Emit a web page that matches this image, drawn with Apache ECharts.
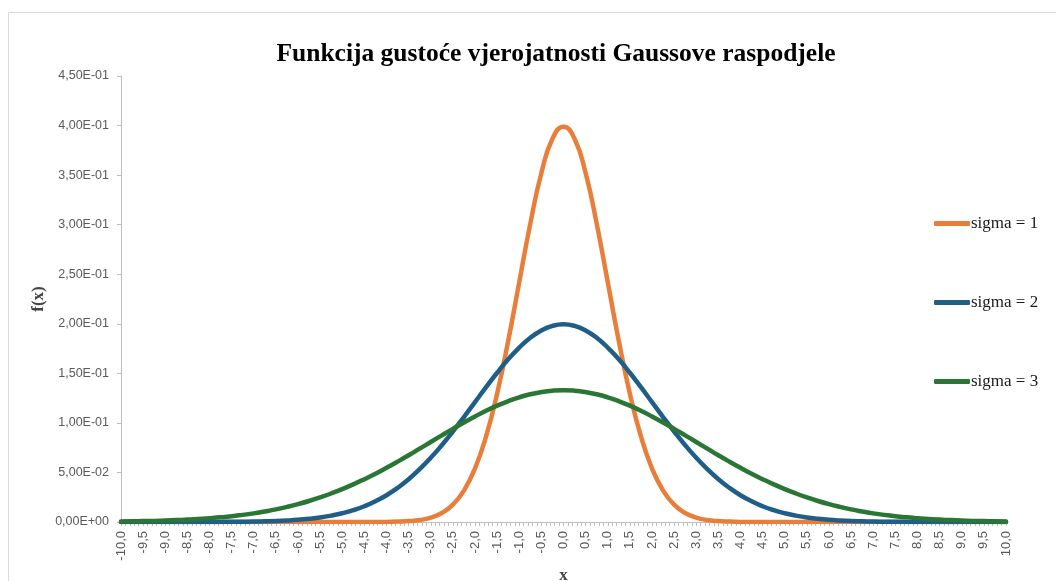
<!DOCTYPE html>
<html>
<head>
<meta charset="utf-8">
<title>Funkcija gustoće</title>
<script src="https://cdn.jsdelivr.net/npm/echarts@6/dist/echarts.min.js"></script>
<style>
  html, body { margin: 0; padding: 0; background: #fff; }
  #echar { width: 1056px; height: 581px; }
</style>
</head>
<body>
<div id="echar"></div>
<script>
// x vrijednosti (korak 0,25)
var xs = [-10,-9.75,-9.5,-9.25,-9,-8.75,-8.5,-8.25,-8,-7.75,-7.5,-7.25,-7,-6.75,-6.5,-6.25,-6,-5.75,-5.5,-5.25,
  -5,-4.75,-4.5,-4.25,-4,-3.75,-3.5,-3.25,-3,-2.75,-2.5,-2.25,-2,-1.75,-1.5,-1.25,-1,-0.75,-0.5,-0.25,
  0,0.25,0.5,0.75,1,1.25,1.5,1.75,2,2.25,2.5,2.75,3,3.25,3.5,3.75,4,4.25,4.5,4.75,
  5,5.25,5.5,5.75,6,6.25,6.5,6.75,7,7.25,7.5,7.75,8,8.25,8.5,8.75,9,9.25,9.5,9.75,10];

var sigma1 = [0,0,0,0,0,0,0,0,0,0,0,0,0,0,0,0,0,0,0,0,
  0,0,0,0,0.0001,0.0004,0.0009,0.0020,0.0044,0.0091,0.0175,0.0317,0.0540,0.0863,0.1295,0.1826,0.2420,0.3011,0.3521,0.3867,
  0.3989,0.3867,0.3521,0.3011,0.2420,0.1826,0.1295,0.0863,0.0540,0.0317,0.0175,0.0091,0.0044,0.0020,0.0009,0.0004,0.0001,0,0,0,
  0,0,0,0,0,0,0,0,0,0,0,0,0,0,0,0,0,0,0,0,0];

var sigma2 = [0,0,0,0,0,0,0,0,0.0001,0.0001,0.0002,0.0003,0.0004,0.0007,0.0010,0.0015,0.0022,0.0032,0.0045,0.0064,
  0.0088,0.0119,0.0159,0.0209,0.0270,0.0344,0.0431,0.0533,0.0648,0.0775,0.0913,0.1059,0.1210,0.1360,0.1506,0.1641,0.1760,0.1859,0.1933,0.1979,
  0.1995,0.1979,0.1933,0.1859,0.1760,0.1641,0.1506,0.1360,0.1210,0.1059,0.0913,0.0775,0.0648,0.0533,0.0431,0.0344,0.0270,0.0209,0.0159,0.0119,
  0.0088,0.0064,0.0045,0.0032,0.0022,0.0015,0.0010,0.0007,0.0004,0.0003,0.0002,0.0001,0.0001,0,0,0,0,0,0,0,0];

var sigma3 = [0.0005,0.0007,0.0009,0.0011,0.0015,0.0019,0.0024,0.0030,0.0038,0.0047,0.0058,0.0072,0.0087,0.0106,0.0127,0.0152,0.0180,0.0212,0.0248,0.0288,
  0.0332,0.0380,0.0432,0.0487,0.0547,0.0609,0.0673,0.0740,0.0807,0.0874,0.0940,0.1004,0.1065,0.1122,0.1174,0.1219,0.1258,0.1289,0.1311,0.1325,
  0.1330,0.1325,0.1311,0.1289,0.1258,0.1219,0.1174,0.1122,0.1065,0.1004,0.0940,0.0874,0.0807,0.0740,0.0673,0.0609,0.0547,0.0487,0.0432,0.0380,
  0.0332,0.0288,0.0248,0.0212,0.0180,0.0152,0.0127,0.0106,0.0087,0.0072,0.0058,0.0047,0.0038,0.0030,0.0024,0.0019,0.0015,0.0011,0.0009,0.0007,0.0005];

var names = ['sigma = 1', 'sigma = 2', 'sigma = 3'];
var colors = ['#E97E3A', '#1F5E86', '#2A7634'];

function pairs(ys) {
    return xs.map(function (x, i) { return [x, ys[i]]; });
}

// 4,50E-01 format
function expFmt(v) {
    var s = Number(v).toExponential(2).split('e');
    var e = parseInt(s[1], 10);
    var es = (e < 0 ? '-' : '+') + (Math.abs(e) < 10 ? '0' : '') + Math.abs(e);
    return s[0].replace('.', ',') + 'E' + es;
}

var myChart = echarts.init(document.getElementById('echar'));

var option = {
    backgroundColor: '#fff',
    animation: false,
    title: {
        text: 'Funkcija gustoće vjerojatnosti Gaussove raspodjele',
        left: 551,
        textAlign: 'center',
        top: 36,
        textStyle: {
            fontFamily: 'Liberation Serif',
            fontWeight: 'bold',
            fontSize: 25.5,
            color: '#000'
        }
    },
    graphic: [{
        type: 'rect',
        left: 6,
        top: 10,
        shape: { width: 1100, height: 620 },
        style: { fill: 'none', stroke: '#d9d9d9', lineWidth: 1 },
        silent: true
    }],
    legend: {
        orient: 'vertical',
        left: 929,
        top: 210,
        itemGap: 62,
        itemWidth: 36,
        itemHeight: 5,
        icon: 'roundRect',
        textStyle: {
            fontFamily: 'Liberation Serif',
            fontSize: 17,
            color: '#1a1a1a',
            padding: [0, 0, 0, -4]
        },
        data: names
    },
    grid: {
        left: 121,
        right: 50,
        top: 76,
        bottom: 59,
        outerBoundsMode: 'none'
    },
    xAxis: {
        type: 'value',
        min: -10,
        max: 10,
        interval: 0.5,
        name: 'x',
        nameLocation: 'middle',
        nameGap: 45,
        nameMoveOverlap: false,
        nameTextStyle: {
            fontFamily: 'Liberation Serif',
            fontWeight: 'bold',
            fontSize: 17,
            color: '#444'
        },
        axisLine: { onZero: false, lineStyle: { color: '#bfbfbf', width: 1 } },
        axisTick: { show: true, length: 4, lineStyle: { color: '#bfbfbf' } },
        minorTick: { show: true, splitNumber: 5, length: 4, lineStyle: { color: '#bfbfbf' } },
        splitLine: { show: false },
        axisLabel: {
            rotate: 90,
            color: '#595959',
            fontFamily: 'Liberation Sans',
            fontSize: 13,
            margin: 9,
            formatter: function (v) { return v.toFixed(1).replace('.', ','); }
        }
    },
    yAxis: {
        type: 'value',
        min: 0,
        max: 0.45,
        interval: 0.05,
        name: 'f(x)',
        nameLocation: 'middle',
        nameRotate: 90,
        nameGap: 74,
        nameMoveOverlap: false,
        nameTextStyle: {
            fontFamily: 'Liberation Serif',
            fontWeight: 'bold',
            fontSize: 17,
            color: '#444'
        },
        axisLine: { show: true, onZero: false, lineStyle: { color: '#bfbfbf', width: 1 } },
        axisTick: { show: true, length: 4, lineStyle: { color: '#bfbfbf' } },
        splitLine: { show: false },
        axisLabel: {
            color: '#595959',
            fontFamily: 'Liberation Sans',
            fontSize: 12.5,
            margin: 12,
            formatter: expFmt
        }
    },
    series: [sigma1, sigma2, sigma3].map(function (ys, i) {
        return {
            name: names[i],
            type: 'line',
            data: pairs(ys),
            smooth: true,
            showSymbol: false,
            symbol: 'none',
            color: colors[i],
            lineStyle: { color: colors[i], width: 4.5, cap: 'round', join: 'round' }
        };
    })
};

myChart.setOption(option);
</script>
</body>
</html>
